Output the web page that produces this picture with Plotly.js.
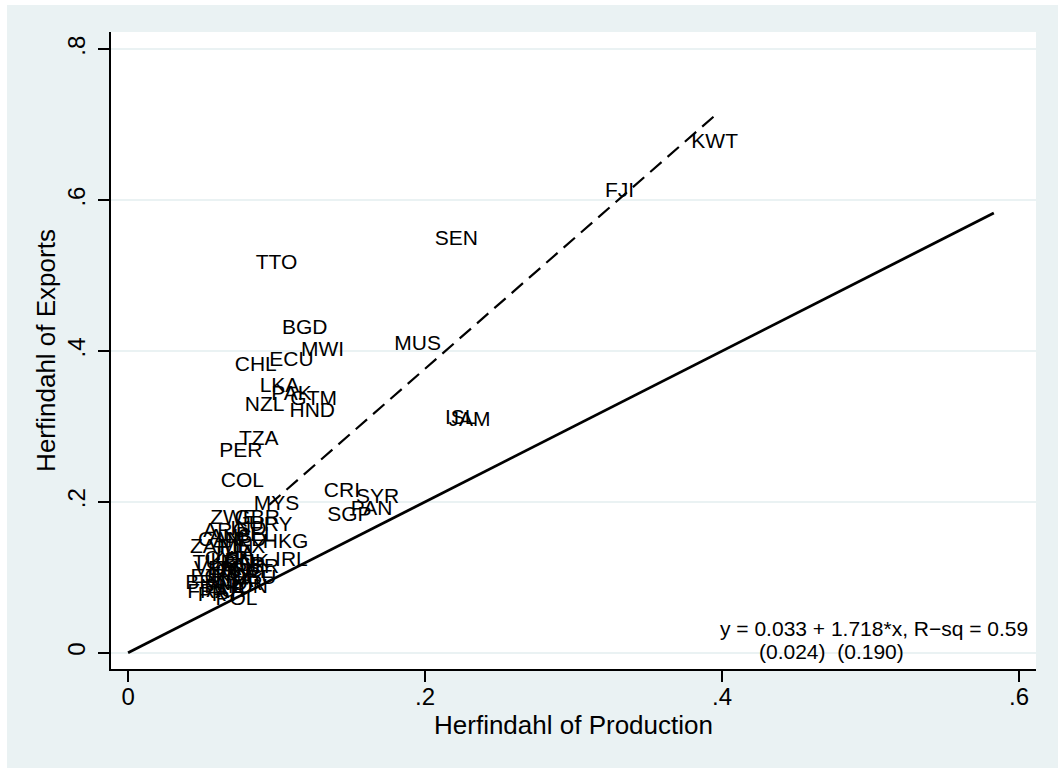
<!DOCTYPE html>
<html>
<head>
<meta charset="utf-8">
<script src="https://cdn.plot.ly/plotly-3.0.1.min.js"></script>
<style>
  html, body { margin: 0; padding: 0; background: #ffffff; }
  #chart { position: absolute; left: 7px; top: 5px; width: 1051px; height: 763px; }
</style>
</head>
<body>
<div id="chart"></div>
<script>
// country codes and their Herfindahl indices
var countries = [
  'KWT', 'FJI', 'SEN', 'TTO', 'BGD', 'MWI', 'MUS', 'ECU', 'CHL', 'LKA',
  'PAK', 'GTM', 'NZL', 'HND', 'ISL', 'JAM', 'TZA', 'PER', 'COL', 'CRI',
  'SYR', 'PAN', 'SGP', 'MYS', 'HKG', 'IRL',
  'ZWE', 'GBR', 'URY', 'ARG', 'IND', 'BEL', 'CAN', 'NLD', 'ZAF', 'MEX',
  'THA', 'TUR', 'KEN', 'ESP', 'ISR', 'ITA', 'SWE', 'KOR', 'JPN', 'DEU',
  'USA', 'EGY', 'BRA', 'NOR', 'PHL', 'FRA', 'PRT', 'AUT', 'POL', 'DNK',
  'FIN', 'AUS', 'GRC', 'CYP', 'IDN', 'VEN'
];
var prodHerf = [
  0.395, 0.331, 0.221, 0.100, 0.119, 0.131, 0.195, 0.110, 0.086, 0.102,
  0.110, 0.125, 0.092, 0.124, 0.224, 0.230, 0.088, 0.076, 0.077, 0.144,
  0.168, 0.164, 0.149, 0.100, 0.106, 0.110,
  0.071, 0.087, 0.096, 0.066, 0.081, 0.086, 0.062, 0.079, 0.055, 0.077,
  0.071, 0.058, 0.070, 0.078, 0.090, 0.066, 0.082, 0.074, 0.063, 0.085,
  0.070, 0.057, 0.053, 0.075, 0.065, 0.054, 0.061, 0.067, 0.073, 0.080,
  0.073, 0.069, 0.075, 0.066, 0.082, 0.059
];
var expHerf = [
  0.676, 0.611, 0.547, 0.516, 0.430, 0.401, 0.408, 0.387, 0.380, 0.353,
  0.342, 0.335, 0.328, 0.319, 0.310, 0.307, 0.282, 0.267, 0.227, 0.214,
  0.206, 0.189, 0.182, 0.196, 0.146, 0.122,
  0.177, 0.177, 0.168, 0.160, 0.163, 0.155, 0.148, 0.148, 0.139, 0.139,
  0.130, 0.118, 0.120, 0.115, 0.112, 0.110, 0.106, 0.102, 0.100, 0.098,
  0.094, 0.099, 0.091, 0.090, 0.086, 0.079, 0.075, 0.081, 0.070, 0.119,
  0.139, 0.152, 0.108, 0.123, 0.086, 0.110
];

// 45 degree line and fitted line end points
var diagX = [0, 0.583];
var diagY = [0, 0.583];
var fitX = [0.095, 0.395];
var fitY = [0.196, 0.712];

var xTicks = [0, 0.2, 0.4, 0.6];
var xTickText = ['0', '.2', '.4', '.6'];
var yTicks = [0, 0.2, 0.4, 0.6, 0.8];
var yTickText = ['0', '.2', '.4', '.6', '.8'];

var fontFam = 'Liberation Sans, Arial, Helvetica, sans-serif';

var labels = {
  type: 'scatter',
  x: prodHerf,
  y: expHerf,
  mode: 'text',
  text: countries,
  textposition: 'middle center',
  textfont: { family: fontFam, size: 21, color: '#000000' },
  cliponaxis: false,
  hoverinfo: 'text',
  showlegend: false
};

var diag = {
  type: 'scatter',
  x: diagX,
  y: diagY,
  mode: 'lines',
  line: { color: '#000000', width: 2.8 },
  hoverinfo: 'skip',
  showlegend: false
};

var fit = {
  type: 'scatter',
  x: fitX,
  y: fitY,
  mode: 'lines',
  line: { color: '#000000', width: 2.2, dash: '15px,8px' },
  hoverinfo: 'skip',
  showlegend: false
};

var layout = {
  width: 1051,
  height: 763,
  paper_bgcolor: '#eaf2f3',
  plot_bgcolor: '#ffffff',
  font: { family: fontFam, color: '#000000' },
  margin: { l: 104, r: 22, t: 27, b: 99 },
  showlegend: false,
  xaxis: {
    range: [-0.0115, 0.6114],
    tickvals: xTicks,
    ticktext: xTickText,
    ticks: 'outside',
    ticklen: 11,
    tickwidth: 1.5,
    tickcolor: '#000000',
    tickfont: { size: 24 },
    ticklabelstandoff: -6,
    showline: true,
    linecolor: '#000000',
    linewidth: 1.5,
    showgrid: false,
    zeroline: false,
    title: { text: 'Herfindahl of Production', font: { size: 26 }, standoff: 4 }
  },
  yaxis: {
    range: [-0.0216, 0.823],
    tickvals: yTicks,
    ticktext: yTickText,
    tickangle: -90,
    ticks: 'outside',
    ticklen: 11,
    tickwidth: 1.5,
    tickcolor: '#000000',
    tickfont: { size: 24 },
    ticklabelstandoff: 4,
    showline: true,
    linecolor: '#000000',
    linewidth: 1.5,
    showgrid: true,
    gridcolor: '#eaf2f3',
    gridwidth: 1.5,
    zeroline: false,
    title: { text: 'Herfindahl of Exports', font: { size: 26 }, standoff: 0 }
  },
  annotations: [
    {
      xref: 'x', yref: 'y',
      x: 0.6074, y: 0.0327,
      xanchor: 'right', yanchor: 'middle',
      text: 'y = 0.033 + 1.718*x, R\u2212sq = 0.59',
      showarrow: false,
      font: { size: 21 }
    },
    {
      xref: 'x', yref: 'y',
      x: 0.474, y: 0.002,
      xanchor: 'center', yanchor: 'middle',
      text: '(0.024)  (0.190)',
      showarrow: false,
      font: { size: 21 }
    }
  ]
};

var data = [diag, fit, labels];

Plotly.newPlot('chart', data, layout, {displayModeBar: false, responsive: false});
</script>
</body>
</html>
